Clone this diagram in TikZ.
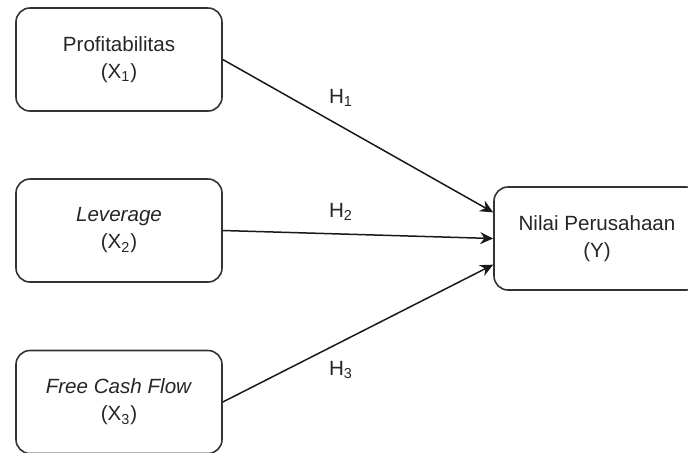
\documentclass[tikz,border=0pt]{standalone}
\usepackage{fontspec}
\setmainfont{Liberation Sans}
\usepackage{tikz}
\usetikzlibrary{positioning,arrows.meta,calc}

\begin{document}
\begin{tikzpicture}[
        x=0.5pt, y=-0.5pt,
        var/.style ={draw=black!80, line width=0.8pt, rounded corners=7pt, minimum width=103pt,
                     minimum height=51.5pt, align=center, inner sep=0pt,
                     font=\fontsize{10.3}{13.5}\selectfont, text=black!85},
        link/.style={draw=black!90, line width=0.75pt, -{Stealth[length=6.5pt,width=6pt]}},
        hyp/.style ={font=\fontsize{10.3}{12}\selectfont, text=black!85, inner sep=0pt}
    ]
        \useasboundingbox (0,0) rectangle (688,452);
        \clip (0,0) rectangle (688,452);
        % independent variables, left column
        \node[var] (x1) at (119, 59.5)  {Profitabilitas\\(X\textsubscript{1})};
        \node[var] (x2) at (119, 230.5) {\textit{Leverage}\\(X\textsubscript{2})};
        \node[var] (x3) at (119, 402)   {\textit{Free Cash Flow}\\(X\textsubscript{3})};
        % dependent variable (runs past the right edge)
        \node[var] (y)  at (597, 238.5) {Nilai Perusahaan\\(Y)};
        % entry points on the left side of Y
        \coordinate (y1) at ($(y.north west)!0.25!(y.south west)$);
        \coordinate (y3) at ($(y.north west)!0.75!(y.south west)$);
        \draw[link] (x1.east) -- (y1);
        \draw[link] (x2.east) -- (y.west);
        \draw[link] (x3.east) -- (y3);
        % hypothesis labels
        \node[hyp] (h1) at (341, 98)  {H\textsubscript{1}};
        \node[hyp] (h2) at (341, 212) {H\textsubscript{2}};
        \node[hyp] (h3) at (341, 370) {H\textsubscript{3}};
\end{tikzpicture}
\end{document}
